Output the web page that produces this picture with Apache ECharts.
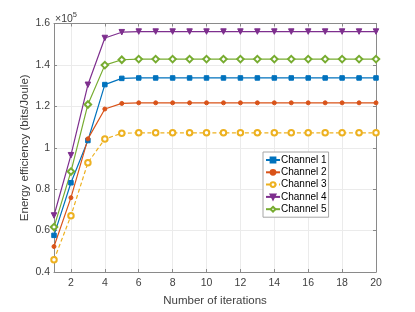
<!DOCTYPE html>
<html>
<head>
<meta charset="utf-8">
<script src="https://cdn.jsdelivr.net/npm/echarts@6/dist/echarts.min.js"></script>
<style>html,body{margin:0;padding:0;background:#fff}#c{width:415px;height:312px}</style>
</head>
<body>
<div id="c"></div>
<script>
const iterations = ['1','2','3','4','5','6','7','8','9','10','11','12','13','14','15','16','17','18','19','20'];
const yTicks = [0.4, 0.6, 0.8, 1, 1.2, 1.4, 1.6];
const seriesNames = ['Channel 1','Channel 2','Channel 3','Channel 4','Channel 5'];
// values in units of 1e5 bits/Joule
const channel1 = [0.577,0.831,1.035,1.305,1.335,1.337,1.337,1.337,1.337,1.337,1.337,1.337,1.337,1.337,1.337,1.337,1.337,1.337,1.337,1.337];
const channel2 = [0.523,0.759,1.043,1.187,1.214,1.217,1.217,1.217,1.217,1.217,1.217,1.217,1.217,1.217,1.217,1.217,1.217,1.217,1.217,1.217];
const channel3 = [0.459,0.672,0.928,1.042,1.070,1.072,1.072,1.072,1.072,1.072,1.072,1.072,1.072,1.072,1.072,1.072,1.072,1.072,1.072,1.072];
const channel4 = [0.673,0.964,1.304,1.530,1.558,1.561,1.561,1.561,1.561,1.561,1.561,1.561,1.561,1.561,1.561,1.561,1.561,1.561,1.561,1.561];
const channel5 = [0.617,0.885,1.209,1.399,1.425,1.428,1.428,1.428,1.428,1.428,1.428,1.428,1.428,1.428,1.428,1.428,1.428,1.428,1.428,1.428];

const colors = ['#0072BD','#D95319','#EDB120','#7E2F8E','#77AC30'];
const FONT = 'Liberation Sans, Arial, sans-serif';
const evenIdx = (i) => (i + 1) % 2 === 0;
const axisGray = '#8a8a8a';
const labelCol = '#404040';

const chart = echarts.init(document.getElementById('c'), null, {renderer: 'canvas'});

function mkSeries(name, data, color, symbol, size, extra) {
  return Object.assign({
    name: name, type: 'line', data: data,
    xAxisIndex: 0, yAxisIndex: 0,
    symbol: symbol, symbolSize: size,
    showSymbol: true,
    lineStyle: {color: color, width: 1.2},
    itemStyle: {color: color, borderColor: color, borderWidth: 1},
    emphasis: {disabled: true},
    animation: false
  }, extra || {});
}

const option = {
  animation: false,
  backgroundColor: '#fff',
  grid: {left: 54, right: 39, top: 23.5, bottom: 35, containLabel: false},
  legend: {
    orient: 'vertical',
    left: 263, top: 152,
    itemWidth: 14, itemHeight: 6, itemGap: 2.3,
    padding: [3, 2, 3, 2],
    backgroundColor: '#fff',
    borderColor: '#a6a6a6', borderWidth: 1, borderRadius: 0,
    textStyle: {fontFamily: FONT, fontSize: 10, color: '#000', padding: [0, 0, 0, -4]},
    data: seriesNames
  },
  xAxis: [{
    type: 'category', data: iterations, boundaryGap: false, position: 'bottom',
    axisLine: {show: true, lineStyle: {color: axisGray, width: 1}},
    axisTick: {show: true, inside: true, length: 3, interval: evenIdx, lineStyle: {color: axisGray}},
    axisLabel: {interval: evenIdx, fontFamily: FONT, fontSize: 10.5, color: labelCol, margin: 6},
    splitLine: {show: true, interval: evenIdx, lineStyle: {color: '#ebebeb', width: 1}},
    name: 'Number of iterations', nameLocation: 'middle', nameGap: 23, nameMoveOverlap: false,
    nameTextStyle: {fontFamily: FONT, fontSize: 11.5, color: labelCol}
  }, {
    type: 'category', data: iterations, boundaryGap: false, position: 'top',
    axisLine: {show: true, lineStyle: {color: axisGray, width: 1}},
    axisTick: {show: true, inside: true, length: 3, interval: evenIdx, lineStyle: {color: axisGray}},
    axisLabel: {show: false}, splitLine: {show: false}
  }],
  yAxis: [{
    type: 'value', min: 0.4, max: 1.6, interval: 0.2, position: 'left',
    axisLine: {show: true, lineStyle: {color: axisGray, width: 1}},
    axisTick: {show: true, inside: true, length: 3, lineStyle: {color: axisGray}},
    axisLabel: {fontFamily: FONT, fontSize: 10.5, color: labelCol, margin: 4,
      customValues: yTicks,
      formatter: (v) => String(parseFloat(v.toFixed(1)))},
    splitLine: {show: true, lineStyle: {color: '#ebebeb', width: 1}},
    name: 'Energy efficiency (bits/Joule)', nameLocation: 'middle', nameGap: 23, nameMoveOverlap: false,
    nameTextStyle: {fontFamily: FONT, fontSize: 11.5, color: labelCol}
  }, {
    type: 'value', min: 0.4, max: 1.6, interval: 0.2, position: 'right',
    axisLine: {show: true, lineStyle: {color: axisGray, width: 1}},
    axisTick: {show: true, inside: true, length: 3, lineStyle: {color: axisGray}},
    axisLabel: {show: false}, splitLine: {show: false}
  }],
  graphic: [{
    type: 'text', left: 55, top: 11,
    style: {
      text: '{a|×10}{b|5}',
      rich: {
        a: {fontFamily: FONT, fontSize: 10.5, fill: labelCol, verticalAlign: 'bottom'},
        b: {fontFamily: FONT, fontSize: 7.5, fill: labelCol, verticalAlign: 'top', padding: [0,0,6,0]}
      }
    }
  }],
  series: [
    mkSeries(seriesNames[0], channel1, colors[0], 'rect', 4.5),
    mkSeries(seriesNames[1], channel2, colors[1], 'circle', 4),
    mkSeries(seriesNames[2], channel3, colors[2], 'emptyCircle', 5.5,
      {lineStyle: {color: colors[2], width: 1.2, type: [4, 2.5]}, itemStyle: {color: colors[2], borderWidth: 1.1}}),
    mkSeries(seriesNames[3], channel4, colors[3], 'triangle', 5.5, {symbolRotate: 180}),
    mkSeries(seriesNames[4], channel5, colors[4], 'emptyDiamond', 6.5,
      {itemStyle: {color: colors[4], borderWidth: 1.1}})
  ]
};
chart.setOption(option);
</script>
</body>
</html>
